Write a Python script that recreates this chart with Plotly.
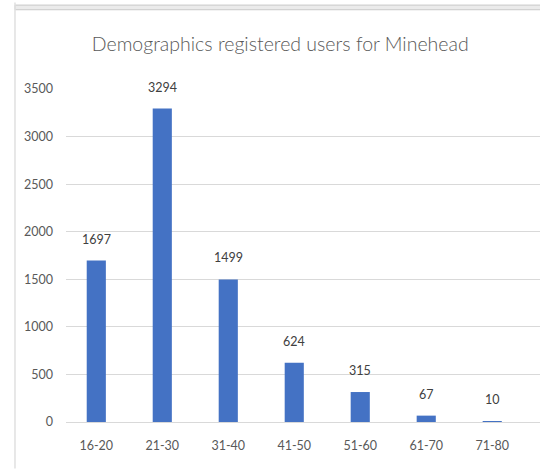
import plotly.graph_objects as go

categories = ["16-20", "21-30", "31-40", "41-50", "51-60", "61-70", "71-80"]
users = [1697, 3294, 1499, 624, 315, 67, 10]
y_ticks = [0, 500, 1000, 1500, 2000, 2500, 3000, 3500]
title_text = "Demographics registered users for Minehead"

bar_color = "#4472C4"
text_color = "#595959"
font_family = "Lato, Open Sans, sans-serif"

fig = go.Figure()
fig.add_trace(go.Bar(
    x=list(range(len(categories))),
    y=users,
    width=0.29,
    marker=dict(color=bar_color, line=dict(width=0)),
    hoverinfo="x+y",
))

for i, v in enumerate(users):
    fig.add_annotation(
        x=i, y=v, text=str(v), showarrow=False,
        yanchor="bottom", yshift=12,
        font=dict(family=font_family, size=12.5, color="#404040"),
    )

# decorative frame edges (screenshot border)
fig.add_shape(type="rect", xref="paper", yref="paper",
              x0=-0.1076, x1=1.01, y0=1.238, y1=1.252,
              fillcolor="#ebebeb", line=dict(color="#c8c8c8", width=1),
              layer="above")
fig.add_shape(type="line", xref="paper", yref="paper",
              x0=-0.1076, x1=-0.1076, y0=-0.14, y1=1.26,
              line=dict(color="#e0e0e0", width=1.5))

fig.update_layout(
    width=540, height=470,
    margin=dict(l=66, r=0, t=89, b=48),
    paper_bgcolor="white",
    plot_bgcolor="white",
    showlegend=False,
    title=dict(
        text=title_text,
        x=0.519, xanchor="center",
        y=0.905, yanchor="middle",
        font=dict(family=font_family, size=19.5, color=text_color, weight=300),
    ),
    xaxis=dict(
        tickmode="array",
        tickvals=list(range(len(categories))),
        ticktext=categories,
        range=[-0.459, 6.724],
        showgrid=False,
        zeroline=False,
        showline=False,
        ticks="",
        ticklabelstandoff=14,
        tickfont=dict(family=font_family, size=12.5, color=text_color),
    ),
    yaxis=dict(
        range=[0, 3500],
        tickmode="array",
        tickvals=y_ticks,
        showgrid=True,
        gridcolor="#d9d9d9",
        gridwidth=1,
        zeroline=True,
        zerolinecolor="#d9d9d9",
        zerolinewidth=1,
        showline=False,
        ticks="",
        ticklabelstandoff=12,
        tickfont=dict(family=font_family, size=12.5, color=text_color),
    ),
)

fig.write_html("out.html", config={"displayModeBar": False},
               post_script="document.body.style.margin='0';")
